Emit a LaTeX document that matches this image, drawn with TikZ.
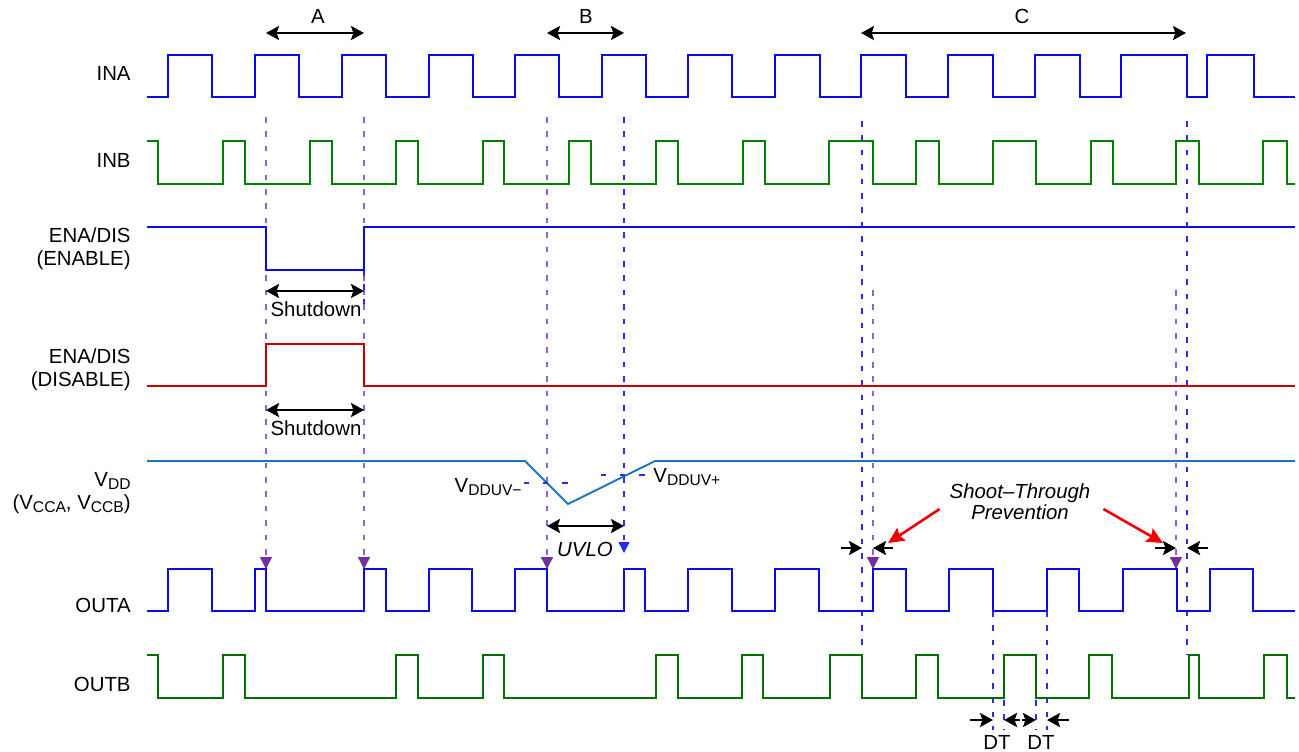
\documentclass[tikz,border=0pt]{standalone}
\usepackage{fontspec}
\setmainfont{Liberation Sans}
\usetikzlibrary{arrows.meta,positioning,calc}
\definecolor{inablue}{HTML}{0A0AE8}
\definecolor{inbgreen}{HTML}{008000}
\definecolor{outgreen}{HTML}{006E00}
\definecolor{disred}{HTML}{C80000}
\definecolor{vddblue}{HTML}{1A74BE}
\definecolor{guidevio}{HTML}{9460CC}
\definecolor{tipvio}{HTML}{7030A0}
\definecolor{guideblue}{HTML}{2A2AF0}
\definecolor{hintred}{HTML}{F00000}
\newcommand{\lowsub}[1]{\raisebox{-1.6pt}{\fontsize{7.8}{8}\selectfont #1}}

\begin{document}
\begin{tikzpicture}[x=0.5pt,y=-0.5pt,font=\fontsize{10.2}{11.5}\selectfont,
  wave/.style={line width=1.15pt},
  vguide/.style={guidevio,line width=0.7pt,dash pattern=on 2.8pt off 4.4pt},
  bguide/.style={guideblue,line width=0.7pt,dash pattern=on 2.8pt off 4.4pt},
  thresh/.style={guideblue,line width=0.7pt,dash pattern=on 2.6pt off 7pt},
  vtip/.style={-{Triangle[length=6pt,width=6pt,color=tipvio]}},
  btip/.style={-{Triangle[length=5.5pt,width=5.5pt,color=guideblue]}},
  span/.style={line width=1.25pt,{Stealth[length=6.5pt,width=7pt,inset=1.2pt]}-{Stealth[length=6.5pt,width=7pt,inset=1.2pt]}},
  pin/.style={line width=1.25pt,-{Stealth[length=6.5pt,width=7pt,inset=1.2pt]}},
  hint/.style={hintred,line width=1.3pt,-{Stealth[length=8pt,width=7.5pt,inset=1.2pt]}},
  lbl/.style={anchor=east,align=right,inner sep=0pt}]
\useasboundingbox (0,0) rectangle (1299,751);

% time marks and rows
\coordinate (tA0) at (266,0);  \coordinate (tA1) at (364,0);
\coordinate (tB0) at (547,0);  \coordinate (tB1) at (624,0);
\coordinate (tC0) at (862,0);  \coordinate (tC1) at (1187,0);
\coordinate (tS0) at (873,0);  \coordinate (tS1) at (1176,0);
\coordinate (tD0) at (993,0);  \coordinate (tD1) at (1004,0);
\coordinate (tD2) at (1036,0); \coordinate (tD3) at (1047,0);
\coordinate (yTop) at (0,33);  \coordinate (yGuide) at (0,117);
\coordinate (ySd1) at (0,291); \coordinate (ySd2) at (0,410);
\coordinate (yUv) at (0,526);  \coordinate (yPin) at (0,548);
\coordinate (yOutA) at (0,569); \coordinate (yOutAlo) at (0,611);
\coordinate (yOutB) at (0,655); \coordinate (yDT) at (0,720);

% signal names
\node[lbl] (nINA) at (131,73) {INA};
\node[lbl] (nINB) at (131,160) {INB};
\node[lbl] (nENA) at (131,249) {ENA/DIS\\(ENABLE)};
\node[lbl] (nDIS) at (131,370) {ENA/DIS\\(DISABLE)};
\node[lbl] (nVDD) at (131,493) {V\lowsub{DD}\\(V\lowsub{CCA}, V\lowsub{CCB})};
\node[lbl] (nOUTA) at (131,605) {OUTA};
\node[lbl] (nOUTB) at (131,684) {OUTB};

% guides (behind the waves)
\foreach \t in {tA0,tA1,tB0}
  \draw[vguide,vtip] (\t |- yGuide) -- (\t |- yOutA);
\draw[bguide,btip] (tB1 |- yGuide) -- ($(tB1 |- yOutA)+(0,-16)$);
\foreach \t in {tC0,tC1}
  \draw[bguide] ($(\t |- yGuide)+(0,4)$) -- (\t |- yOutB);
\foreach \t in {tS0,tS1}
  \draw[vguide,vtip] ($(\t |- yGuide)+(0,173)$) -- (\t |- yOutA);
\draw[bguide] (tA1 |- 0,270) -- (tA1 |- 0,305);
\foreach \t in {tD0,tD3}
  \draw[bguide] (\t |- yOutAlo) -- ($(\t |- yDT)+(0,10)$);
\foreach \t in {tD1,tD2}
  \draw[bguide] ($(\t |- yDT)+(0,-20)$) -- ($(\t |- yDT)+(0,10)$);

% inputs
\draw[wave,inablue] (147,97) foreach \r/\f in {168/212,255/299,342/386,429/473,515/559,602/646,688/732,775/820,861/906,948/993,1035/1080,1121/1187,1207/1254}{ -| (\r,55) -| (\f,97) } -- (1295,97);
\draw[wave,inbgreen] (147,141) -| (158,184) foreach \r/\f in {223/245,310/332,396/418,483/504,569/591,656/678,743/765,829/873,916/939,993/1036,1091/1113,1176/1199,1263/1287}{ -| (\r,141) -| (\f,184) } -- (1295,184);
\draw[wave,inablue] (147,227) -| (tA0 |- 0,270) -| (tA1 |- 0,227) -- (1295,227);
\draw[wave,disred] (147,386) -| (tA0 |- 0,344) -| (tA1 |- 0,386) -- (1295,386);

% supply
\draw[wave,vddblue,line width=0.95pt] (147,461) -- (525,461) -- (568,504) -- (655,461) -- (1295,461);
\draw[thresh] (524,483) -- (572,483);
\draw[thresh] (601,475) -- (649,475);
\node[anchor=east,inner sep=0pt] (uvm) at (522,487) {V\lowsub{DDUV−}};
\node[anchor=west,inner sep=0pt] (uvp) at (653,477) {V\lowsub{DDUV+}};

% outputs
\draw[wave,inablue] (147,611) foreach \r/\f in {168/212,255/266,364/386,429/472,515/547,624/645,688/732,775/819,873/906,949/993,1047/1079,1123/1177,1210/1253}{ -| (\r,569) -| (\f,611) } -- (1295,611);
\draw[wave,outgreen] (147,655) -| (158,698) foreach \r/\f in {223/245,396/418,483/504,656/678,742/763,830/862,916/938,1004/1036,1089/1112,1189/1199,1264/1287}{ -| (\r,655) -| (\f,698) } -- (1295,698);

% spans A, B, C
\draw[span] (tA0 |- yTop) -- (tA1 |- yTop);
\draw[span] (tB0 |- yTop) -- (tB1 |- yTop);
\draw[span] ($(tC0 |- yTop)+(-1,0)$) -- ($(tC1 |- yTop)+(-1,0)$);
\node (labA) at (318,16) {A};
\node (labB) at (586,16) {B};
\node (labC) at (1022,16) {C};

% shutdown and uvlo
\draw[span] (tA0 |- ySd1) -- (tA1 |- ySd1);
\node (sd1) at (316,309) {Shutdown};
\draw[span] (tA0 |- ySd2) -- (tA1 |- ySd2);
\node (sd2) at (316,428) {Shutdown};
\draw[span] (tB0 |- yUv) -- (tB1 |- yUv);
\node (uvlo) at (585,549) {\itshape UVLO};

% shoot-through prevention
\node[align=center,font=\fontsize{10.2}{9}\selectfont\itshape] (stp) at (1020,502) {Shoot–Through\\Prevention};
\foreach \t/\d in {tC0/-21,tS0/20,tS1/-21,tC1/21}
  \draw[pin] ($(\t |- yPin)+(\d,0)$) -- (\t |- yPin);
\draw[hint] ($(stp.west)+(-3,7)$) -- ($(tS0 |- yPin)+(15,-5)$);
\draw[hint] ($(stp.east)+(6,7)$) -- ($(tS1 |- yPin)+(-13,-5)$);

% dead time
\foreach \t/\d in {tD0/-23,tD1/16,tD2/-14,tD3/22}
  \draw[pin] ($(\t |- yDT)+(\d,0)$) -- (\t |- yDT);
\node (dt1) at (997,742) {DT};
\node (dt2) at (1041,742) {DT};
\end{tikzpicture}
\end{document}
